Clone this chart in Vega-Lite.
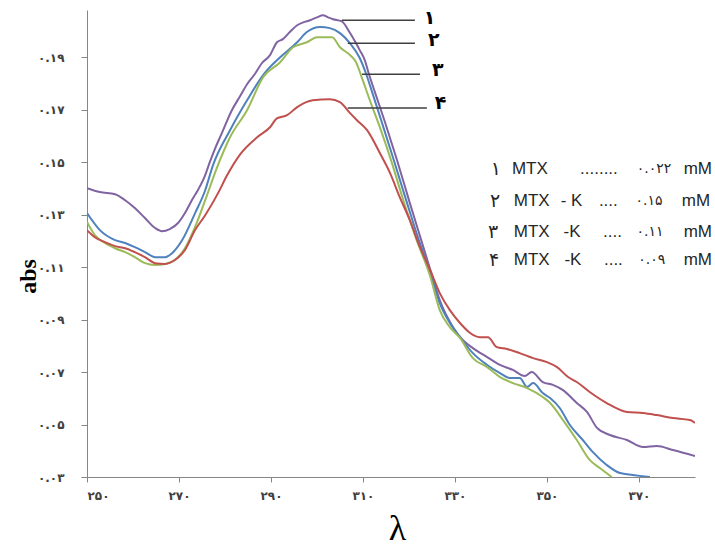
{
  "$schema": "https://vega.github.io/schema/vega-lite/v6.json",
  "autosize": {"type": "none"},
  "padding": {"left": 87, "top": 10, "right": 20, "bottom": 69},
  "width": 608,
  "height": 467,
  "background": "white",
  "config": {"view": {"stroke": null}},
  "datasets": {
    "spectra": [
      {"curve":"1","wl":250,"abs":0.1401},{"curve":"1","wl":252.8,"abs":0.1386},{"curve":"1","wl":256.1,"abs":0.1378},{"curve":"1","wl":258.3,"abs":0.1355},{"curve":"1","wl":260.4,"abs":0.1325},{"curve":"1","wl":262.6,"abs":0.1287},{"curve":"1","wl":264.8,"abs":0.1249},{"curve":"1","wl":266.3,"abs":0.1237},{"curve":"1","wl":268.0,"abs":0.1245},{"curve":"1","wl":269.8,"abs":0.1268},{"curve":"1","wl":271.3,"abs":0.1306},{"curve":"1","wl":272.8,"abs":0.1355},{"curve":"1","wl":274.1,"abs":0.1393},{"curve":"1","wl":275.7,"abs":0.1451},{"curve":"1","wl":276.7,"abs":0.1500},{"curve":"1","wl":277.8,"abs":0.1550},{"curve":"1","wl":279.3,"abs":0.1610},{"curve":"1","wl":281.5,"abs":0.1698},{"curve":"1","wl":283.3,"abs":0.1752},{"curve":"1","wl":284.8,"abs":0.1797},{"curve":"1","wl":286.5,"abs":0.1836},{"curve":"1","wl":288.0,"abs":0.1877},{"curve":"1","wl":289.8,"abs":0.1908},{"curve":"1","wl":291.3,"abs":0.1957},{"curve":"1","wl":292.6,"abs":0.1969},{"curve":"1","wl":294.1,"abs":0.1996},{"curve":"1","wl":295.7,"abs":0.2022},{"curve":"1","wl":297.0,"abs":0.2033},{"curve":"1","wl":298.5,"abs":0.2041},{"curve":"1","wl":300.0,"abs":0.2052},{"curve":"1","wl":301.3,"abs":0.2060},{"curve":"1","wl":302.4,"abs":0.2052},{"curve":"1","wl":303.5,"abs":0.2045},{"curve":"1","wl":305.4,"abs":0.2037},{"curve":"1","wl":307.2,"abs":0.1992},{"curve":"1","wl":308.5,"abs":0.1953},{"curve":"1","wl":309.3,"abs":0.1927},{"curve":"1","wl":310.4,"abs":0.1889},{"curve":"1","wl":311.3,"abs":0.1836},{"curve":"1","wl":312.6,"abs":0.1767},{"curve":"1","wl":314.8,"abs":0.1652},{"curve":"1","wl":317.4,"abs":0.1508},{"curve":"1","wl":320.2,"abs":0.1344},{"curve":"1","wl":322.4,"abs":0.1218},{"curve":"1","wl":325.0,"abs":0.1070},{"curve":"1","wl":326.7,"abs":0.0974},{"curve":"1","wl":329.6,"abs":0.0871},{"curve":"1","wl":331.7,"abs":0.0822},{"curve":"1","wl":333.9,"abs":0.0791},{"curve":"1","wl":337.0,"abs":0.0757},{"curve":"1","wl":339.8,"abs":0.0727},{"curve":"1","wl":342.6,"abs":0.0708},{"curve":"1","wl":345.2,"abs":0.0685},{"curve":"1","wl":346.7,"abs":0.0700},{"curve":"1","wl":349.1,"abs":0.0662},{"curve":"1","wl":351.3,"abs":0.0651},{"curve":"1","wl":353.5,"abs":0.0631},{"curve":"1","wl":356.5,"abs":0.0582},{"curve":"1","wl":358.7,"abs":0.0548},{"curve":"1","wl":360.9,"abs":0.0487},{"curve":"1","wl":363.7,"abs":0.0460},{"curve":"1","wl":367.4,"abs":0.0441},{"curve":"1","wl":370.9,"abs":0.0414},{"curve":"1","wl":373.9,"abs":0.0418},{"curve":"1","wl":377.4,"abs":0.0403},{"curve":"1","wl":382.2,"abs":0.0380},

      {"curve":"2","wl":250,"abs":0.1306},{"curve":"2","wl":252.8,"abs":0.1241},{"curve":"2","wl":256.1,"abs":0.1203},{"curve":"2","wl":258.3,"abs":0.1192},{"curve":"2","wl":260.4,"abs":0.1176},{"curve":"2","wl":262.6,"abs":0.1157},{"curve":"2","wl":264.8,"abs":0.1138},{"curve":"2","wl":267.0,"abs":0.1138},{"curve":"2","wl":268.5,"abs":0.1153},{"curve":"2","wl":270.7,"abs":0.1203},{"curve":"2","wl":273.5,"abs":0.1306},{"curve":"2","wl":275.7,"abs":0.1393},{"curve":"2","wl":277.4,"abs":0.1489},{"curve":"2","wl":281.1,"abs":0.1622},{"curve":"2","wl":284.8,"abs":0.1736},{"curve":"2","wl":288.3,"abs":0.1832},{"curve":"2","wl":292.0,"abs":0.1900},{"curve":"2","wl":295.7,"abs":0.1957},{"curve":"2","wl":297.8,"abs":0.1996},{"curve":"2","wl":300.7,"abs":0.2015},{"curve":"2","wl":302.8,"abs":0.2011},{"curve":"2","wl":305.0,"abs":0.1992},{"curve":"2","wl":307.2,"abs":0.1953},{"curve":"2","wl":309.3,"abs":0.1897},{"curve":"2","wl":310.7,"abs":0.1836},{"curve":"2","wl":312.0,"abs":0.1767},{"curve":"2","wl":314.3,"abs":0.1641},{"curve":"2","wl":316.7,"abs":0.1508},{"curve":"2","wl":319.6,"abs":0.1344},{"curve":"2","wl":322.0,"abs":0.1211},{"curve":"2","wl":324.6,"abs":0.1082},{"curve":"2","wl":326.7,"abs":0.0963},{"curve":"2","wl":328.9,"abs":0.0887},{"curve":"2","wl":331.1,"abs":0.0833},{"curve":"2","wl":333.9,"abs":0.0772},{"curve":"2","wl":337.0,"abs":0.0727},{"curve":"2","wl":339.8,"abs":0.0696},{"curve":"2","wl":342.0,"abs":0.0677},{"curve":"2","wl":344.1,"abs":0.0677},{"curve":"2","wl":345.7,"abs":0.0643},{"curve":"2","wl":347.0,"abs":0.0658},{"curve":"2","wl":349.1,"abs":0.0620},{"curve":"2","wl":350.7,"abs":0.0601},{"curve":"2","wl":352.8,"abs":0.0563},{"curve":"2","wl":355.0,"abs":0.0498},{"curve":"2","wl":357.8,"abs":0.0441},{"curve":"2","wl":360.0,"abs":0.0395},{"curve":"2","wl":363.0,"abs":0.0346},{"curve":"2","wl":365.9,"abs":0.0315},{"curve":"2","wl":368.7,"abs":0.0308},{"curve":"2","wl":372.4,"abs":0.0300},

      {"curve":"3","wl":250,"abs":0.1272},{"curve":"3","wl":251.7,"abs":0.1222},{"curve":"3","wl":253.9,"abs":0.1192},{"curve":"3","wl":256.1,"abs":0.1172},{"curve":"3","wl":258.3,"abs":0.1157},{"curve":"3","wl":260.4,"abs":0.1138},{"curve":"3","wl":262.6,"abs":0.1115},{"curve":"3","wl":264.8,"abs":0.1108},{"curve":"3","wl":267.0,"abs":0.1112},{"curve":"3","wl":269.1,"abs":0.1127},{"curve":"3","wl":271.3,"abs":0.1172},{"curve":"3","wl":273.5,"abs":0.1253},{"curve":"3","wl":275.7,"abs":0.1355},{"curve":"3","wl":278.3,"abs":0.1481},{"curve":"3","wl":281.1,"abs":0.1595},{"curve":"3","wl":284.8,"abs":0.1698},{"curve":"3","wl":288.3,"abs":0.1824},{"curve":"3","wl":292.0,"abs":0.1881},{"curve":"3","wl":294.8,"abs":0.1938},{"curve":"3","wl":297.8,"abs":0.1957},{"curve":"3","wl":300.0,"abs":0.1976},{"curve":"3","wl":303.3,"abs":0.1976},{"curve":"3","wl":305.0,"abs":0.1938},{"curve":"3","wl":307.2,"abs":0.1908},{"curve":"3","wl":308.5,"abs":0.1881},{"curve":"3","wl":309.8,"abs":0.1820},{"curve":"3","wl":311.5,"abs":0.1736},{"curve":"3","wl":313.9,"abs":0.1622},{"curve":"3","wl":316.1,"abs":0.1508},{"curve":"3","wl":318.9,"abs":0.1348},{"curve":"3","wl":321.5,"abs":0.1211},{"curve":"3","wl":324.6,"abs":0.1066},{"curve":"3","wl":326.7,"abs":0.0936},{"curve":"3","wl":328.9,"abs":0.0871},{"curve":"3","wl":331.1,"abs":0.0830},{"curve":"3","wl":333.9,"abs":0.0753},{"curve":"3","wl":337.0,"abs":0.0719},{"curve":"3","wl":339.8,"abs":0.0681},{"curve":"3","wl":342.6,"abs":0.0658},{"curve":"3","wl":345.7,"abs":0.0639},{"curve":"3","wl":349.1,"abs":0.0605},{"curve":"3","wl":350.7,"abs":0.0582},{"curve":"3","wl":353.5,"abs":0.0517},{"curve":"3","wl":356.5,"abs":0.0441},{"curve":"3","wl":359.3,"abs":0.0365},{"curve":"3","wl":361.5,"abs":0.0334},{"curve":"3","wl":364.1,"abs":0.0300},

      {"curve":"4","wl":250,"abs":0.1241},{"curve":"4","wl":251.7,"abs":0.1214},{"curve":"4","wl":253.9,"abs":0.1195},{"curve":"4","wl":256.1,"abs":0.1180},{"curve":"4","wl":258.3,"abs":0.1172},{"curve":"4","wl":260.4,"abs":0.1157},{"curve":"4","wl":262.6,"abs":0.1138},{"curve":"4","wl":264.8,"abs":0.1115},{"curve":"4","wl":267.0,"abs":0.1112},{"curve":"4","wl":269.1,"abs":0.1127},{"curve":"4","wl":271.3,"abs":0.1165},{"curve":"4","wl":273.5,"abs":0.1241},{"curve":"4","wl":275.7,"abs":0.1298},{"curve":"4","wl":278.5,"abs":0.1382},{"curve":"4","wl":280.4,"abs":0.1448},{"curve":"4","wl":283.3,"abs":0.1530},{"curve":"4","wl":287.0,"abs":0.1595},{"curve":"4","wl":289.8,"abs":0.1633},{"curve":"4","wl":291.3,"abs":0.1667},{"curve":"4","wl":293.5,"abs":0.1679},{"curve":"4","wl":295.7,"abs":0.1710},{"curve":"4","wl":299.1,"abs":0.1736},{"curve":"4","wl":302.8,"abs":0.1740},{"curve":"4","wl":305.0,"abs":0.1729},{"curve":"4","wl":307.2,"abs":0.1687},{"curve":"4","wl":308.7,"abs":0.1660},{"curve":"4","wl":310.9,"abs":0.1622},{"curve":"4","wl":313.7,"abs":0.1534},{"curve":"4","wl":315.9,"abs":0.1458},{"curve":"4","wl":318.0,"abs":0.1367},{"curve":"4","wl":320.2,"abs":0.1279},{"curve":"4","wl":322.4,"abs":0.1176},{"curve":"4","wl":324.6,"abs":0.1089},{"curve":"4","wl":326.7,"abs":0.1001},{"curve":"4","wl":328.9,"abs":0.0936},{"curve":"4","wl":331.1,"abs":0.0887},{"curve":"4","wl":333.3,"abs":0.0849},{"curve":"4","wl":335.4,"abs":0.0833},{"curve":"4","wl":337.2,"abs":0.0833},{"curve":"4","wl":339.1,"abs":0.0795},{"curve":"4","wl":341.3,"abs":0.0788},{"curve":"4","wl":344.1,"abs":0.0772},{"curve":"4","wl":347.0,"abs":0.0753},{"curve":"4","wl":350.0,"abs":0.0738},{"curve":"4","wl":352.2,"abs":0.0719},{"curve":"4","wl":354.6,"abs":0.0681},{"curve":"4","wl":356.5,"abs":0.0662},{"curve":"4","wl":359.3,"abs":0.0624},{"curve":"4","wl":363.0,"abs":0.0582},{"curve":"4","wl":367.4,"abs":0.0548},{"curve":"4","wl":370.9,"abs":0.0544},{"curve":"4","wl":373.9,"abs":0.0536},{"curve":"4","wl":377.4,"abs":0.0525},{"curve":"4","wl":381.1,"abs":0.0517},{"curve":"4","wl":382.2,"abs":0.0506}
    ],
    "leaders": [
      {"n":"۱","x":305.4,"x2":321.3,"y":0.2041,"lx":324.5,"ly":0.2049},
      {"n":"۲","x":306.7,"x2":321.3,"y":0.1953,"lx":325.4,"ly":0.1965},
      {"n":"۳","x":309.8,"x2":322.4,"y":0.1835,"lx":326.3,"ly":0.1850},
      {"n":"۴","x":306.7,"x2":323.9,"y":0.1706,"lx":326.9,"ly":0.1725}
    ],
    "notes": [
      {"col":"num","text":"۱","x":337.8,"y":0.1474},
      {"col":"num","text":"۲","x":337.6,"y":0.1352},
      {"col":"num","text":"۳","x":337.2,"y":0.1234},
      {"col":"num","text":"۴","x":337.4,"y":0.1127},
      {"col":"name","text":"MTX","x":342.4,"y":0.1474},
      {"col":"name","text":"MTX","x":342.8,"y":0.1352},
      {"col":"name","text":"MTX","x":342.8,"y":0.1234},
      {"col":"name","text":"MTX","x":342.8,"y":0.1127},
      {"col":"name","text":"- K","x":353.0,"y":0.1352},
      {"col":"name","text":"-K","x":353.6,"y":0.1234},
      {"col":"name","text":"-K","x":353.8,"y":0.1127},
      {"col":"name","text":"........","x":357.2,"y":0.1474},
      {"col":"name","text":"....","x":361.3,"y":0.1352},
      {"col":"name","text":"....","x":362.2,"y":0.1234},
      {"col":"name","text":"....","x":362.4,"y":0.1127},
      {"col":"conc","text":"۰.۰۲۲","x":373.3,"y":0.1474},
      {"col":"conc","text":"۰.۱۵","x":372.2,"y":0.1352},
      {"col":"conc","text":"۰.۱۱","x":372.4,"y":0.1234},
      {"col":"conc","text":"۰.۰۹","x":372.8,"y":0.1127},
      {"col":"unit","text":"mM","x":385.9,"y":0.1474},
      {"col":"unit","text":"mM","x":385.5,"y":0.1352},
      {"col":"unit","text":"mM","x":385.9,"y":0.1234},
      {"col":"unit","text":"mM","x":385.9,"y":0.1127}
    ]
  },
  "layer": [
    {
      "data": {"name": "spectra"},
      "mark": {"type": "line", "strokeWidth": 2, "interpolate": "monotone", "clip": true},
      "encoding": {
        "x": {
          "field": "wl", "type": "quantitative",
          "scale": {"domain": [250, 382.2], "nice": false, "zero": false},
          "axis": {
            "values": [250, 270, 290, 310, 330, 350, 370],
            "grid": false,
            "domainColor": "#868686", "tickColor": "#868686", "tickSize": 5,
            "labelColor": "#404040", "labelFontSize": 12, "labelFontWeight": "bold",
            "labelFont": "DejaVu Sans", "labelPadding": 8,
            "labelExpr": "replace(replace(replace(replace(replace(replace(replace(replace(replace(replace(datum.label,regexp('0','g'),'۰'),regexp('1','g'),'۱'),regexp('2','g'),'۲'),regexp('3','g'),'۳'),regexp('4','g'),'۴'),regexp('5','g'),'۵'),regexp('6','g'),'۶'),regexp('7','g'),'۷'),regexp('8','g'),'۸'),regexp('9','g'),'۹')",
            "title": "λ", "titleFont": "Liberation Serif", "titleFontSize": 36, "titleFontWeight": "normal",
            "titleColor": "#000000", "titleX": 310, "titleY": 62, "titleBaseline": "alphabetic"
          }
        },
        "y": {
          "field": "abs", "type": "quantitative",
          "scale": {"domain": [0.03, 0.208], "nice": false, "zero": false},
          "axis": {
            "values": [0.03, 0.05, 0.07, 0.09, 0.11, 0.13, 0.15, 0.17, 0.19],
            "format": ".2f",
            "grid": false,
            "domainColor": "#868686", "tickColor": "#868686", "tickSize": 6,
            "labelColor": "#404040", "labelFontSize": 12, "labelFontWeight": "bold",
            "labelFont": "DejaVu Sans", "labelPadding": 17,
            "labelExpr": "replace(replace(replace(replace(replace(replace(replace(replace(replace(replace(datum.label,regexp('0','g'),'۰'),regexp('1','g'),'۱'),regexp('2','g'),'۲'),regexp('3','g'),'۳'),regexp('4','g'),'۴'),regexp('5','g'),'۵'),regexp('6','g'),'۶'),regexp('7','g'),'۷'),regexp('8','g'),'۸'),regexp('9','g'),'۹')",
            "title": "abs", "titleFont": "Liberation Serif", "titleFontSize": 24, "titleFontWeight": "bold",
            "titleColor": "#000000", "titleX": -52, "titleY": 266, "titleBaseline": "alphabetic"
          }
        },
        "color": {
          "field": "curve", "type": "nominal",
          "scale": {"domain": ["1", "2", "3", "4"], "range": ["#8064A2", "#4F81BD", "#9BBB59", "#C0504D"]},
          "legend": null
        }
      }
    },
    {
      "data": {"name": "leaders"},
      "mark": {"type": "rule", "stroke": "#404040", "strokeWidth": 1.5},
      "encoding": {
        "x": {"field": "x", "type": "quantitative"},
        "x2": {"field": "x2"},
        "y": {"field": "y", "type": "quantitative"}
      }
    },
    {
      "data": {"name": "leaders"},
      "mark": {"type": "text", "font": "DejaVu Sans", "fontSize": 19, "fontWeight": "bold", "color": "#000000", "align": "center", "baseline": "middle"},
      "encoding": {
        "x": {"field": "lx", "type": "quantitative"},
        "y": {"field": "ly", "type": "quantitative"},
        "text": {"field": "n"}
      }
    },
    {
      "data": {"name": "notes"},
      "transform": [{"filter": "datum.col === 'num'"}],
      "mark": {"type": "text", "font": "DejaVu Sans", "fontSize": 19, "color": "#262626", "align": "left", "baseline": "middle"},
      "encoding": {
        "x": {"field": "x", "type": "quantitative"},
        "y": {"field": "y", "type": "quantitative"},
        "text": {"field": "text"}
      }
    },
    {
      "data": {"name": "notes"},
      "transform": [{"filter": "datum.col === 'name'"}],
      "mark": {"type": "text", "font": "Liberation Sans", "fontSize": 17, "color": "#262626", "align": "left", "baseline": "middle"},
      "encoding": {
        "x": {"field": "x", "type": "quantitative"},
        "y": {"field": "y", "type": "quantitative"},
        "text": {"field": "text"}
      }
    },
    {
      "data": {"name": "notes"},
      "transform": [{"filter": "datum.col === 'conc'"}],
      "mark": {"type": "text", "font": "DejaVu Sans", "fontSize": 14, "color": "#262626", "align": "center", "baseline": "middle"},
      "encoding": {
        "x": {"field": "x", "type": "quantitative"},
        "y": {"field": "y", "type": "quantitative"},
        "text": {"field": "text"}
      }
    },
    {
      "data": {"name": "notes"},
      "transform": [{"filter": "datum.col === 'unit'"}],
      "mark": {"type": "text", "font": "Liberation Sans", "fontSize": 17, "color": "#262626", "align": "right", "baseline": "middle"},
      "encoding": {
        "x": {"field": "x", "type": "quantitative"},
        "y": {"field": "y", "type": "quantitative"},
        "text": {"field": "text"}
      }
    }
  ]
}
